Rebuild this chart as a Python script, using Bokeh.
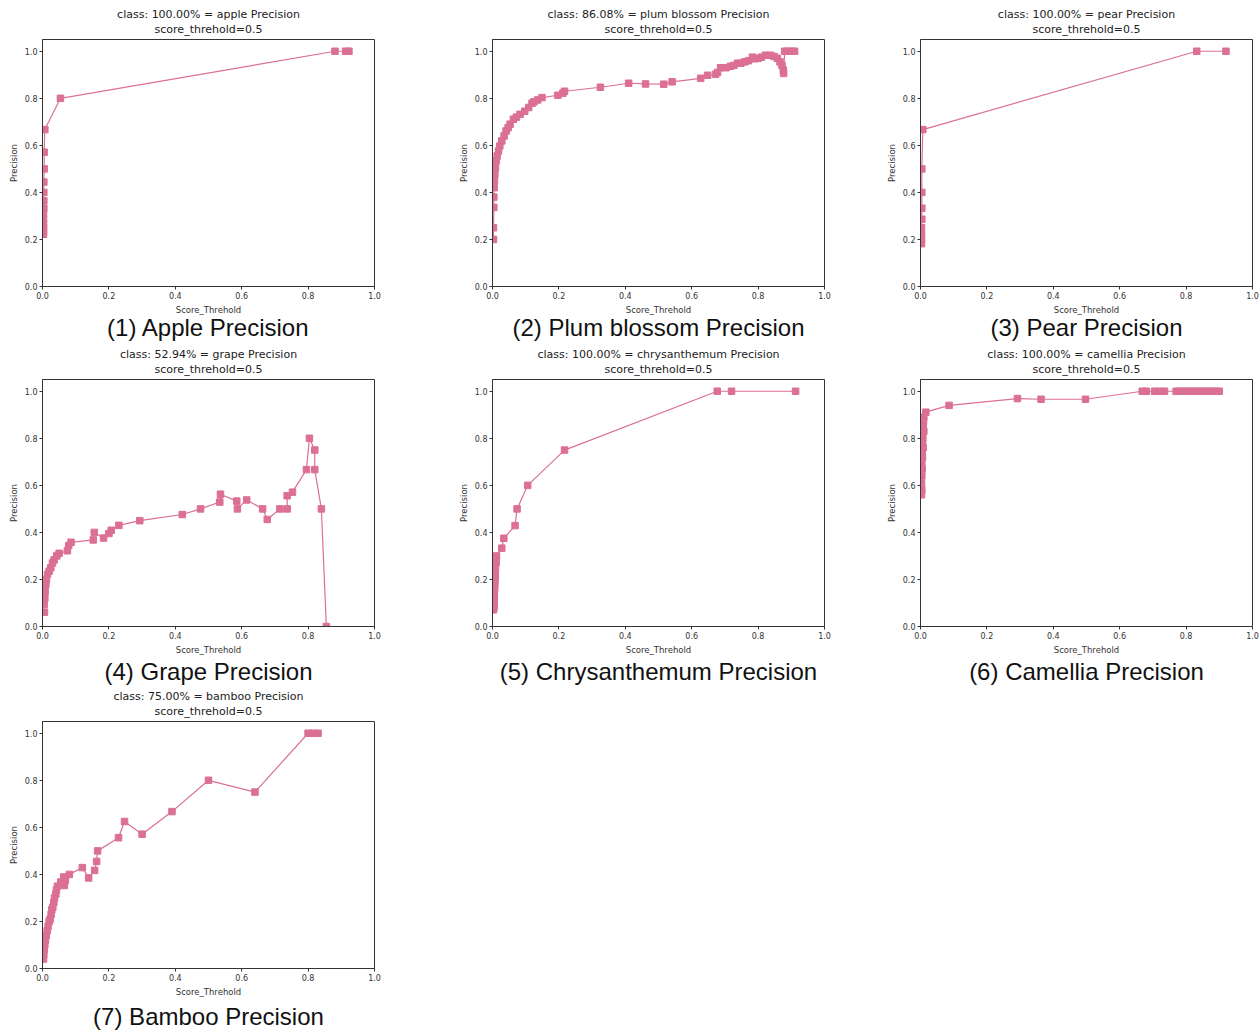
from bokeh.plotting import figure
from bokeh.models import Range1d, FixedTicker, NumeralTickFormatter, Title
from bokeh.layouts import column, row
from bokeh.embed import file_html
from bokeh.resources import INLINE

# ---------------- data ----------------
class_names = ["apple", "plum blossom", "pear", "grape", "chrysanthemum", "camellia", "bamboo"]
class_scores = ["100.00%", "86.08%", "100.00%", "52.94%", "100.00%", "100.00%", "75.00%"]
captions = ["(1) Apple Precision", "(2) Plum blossom Precision", "(3) Pear Precision",
            "(4) Grape Precision", "(5) Chrysanthemum Precision", "(6) Camellia Precision",
            "(7) Bamboo Precision"]
tick_values = [0.0, 0.2, 0.4, 0.6, 0.8, 1.0]

apple_x = [0.923, 0.913, 0.881, 0.054, 0.007, 0.005, 0.005, 0.004, 0.004, 0.004, 0.004,
           0.003, 0.003, 0.003, 0.003, 0.003, 0.003]
apple_y = [1.0, 1.0, 1.0, 0.8, 0.667, 0.571, 0.5, 0.444, 0.4, 0.364, 0.333,
           0.308, 0.286, 0.267, 0.25, 0.235, 0.222]

plum_x = [0.910, 0.900, 0.890, 0.880, 0.877, 0.876, 0.872, 0.866, 0.858, 0.848, 0.837, 0.822,
          0.810, 0.800, 0.790, 0.783, 0.771, 0.760, 0.748, 0.738, 0.727, 0.717, 0.703, 0.687,
          0.678, 0.672, 0.648, 0.627, 0.541, 0.516, 0.461, 0.410, 0.325, 0.217, 0.212, 0.197,
          0.149, 0.136, 0.125, 0.119, 0.109, 0.097, 0.083, 0.072, 0.063, 0.053, 0.047, 0.041,
          0.035, 0.028, 0.022, 0.018, 0.014, 0.011, 0.009, 0.007, 0.006, 0.005, 0.004, 0.004,
          0.003, 0.003]
plum_y = [1.0, 1.0, 1.0, 1.0, 0.906, 0.92, 0.94, 0.955, 0.97, 0.978, 0.983, 0.983,
          0.975, 0.97, 0.968, 0.975, 0.96, 0.955, 0.949, 0.949, 0.94, 0.936, 0.93, 0.93,
          0.91, 0.902, 0.898, 0.885, 0.87, 0.86, 0.861, 0.864, 0.847, 0.83, 0.822, 0.813,
          0.803, 0.793, 0.785, 0.779, 0.761, 0.745, 0.732, 0.72, 0.711, 0.69, 0.675, 0.661,
          0.64, 0.619, 0.597, 0.576, 0.555, 0.534, 0.505, 0.477, 0.45, 0.42, 0.38, 0.336,
          0.25, 0.2]

pear_x = [0.920, 0.832, 0.007, 0.004, 0.004, 0.004, 0.004, 0.003, 0.003, 0.003, 0.003]
pear_y = [1.0, 1.0, 0.667, 0.5, 0.4, 0.333, 0.286, 0.25, 0.222, 0.2, 0.182]

grape_x = [0.855, 0.840, 0.820, 0.820, 0.804, 0.795, 0.753, 0.737, 0.737, 0.715, 0.677, 0.663,
           0.615, 0.587, 0.585, 0.536, 0.534, 0.476, 0.421, 0.293, 0.230, 0.207, 0.200, 0.184,
           0.156, 0.153, 0.086, 0.079, 0.075, 0.050, 0.043, 0.035, 0.030, 0.025, 0.020, 0.015,
           0.012, 0.010, 0.008, 0.007, 0.005, 0.006]
grape_y = [0.0, 0.5, 0.667, 0.75, 0.8, 0.667, 0.571, 0.556, 0.5, 0.5, 0.455, 0.5,
           0.538, 0.5, 0.533, 0.5625, 0.529, 0.5, 0.476, 0.45, 0.43, 0.409, 0.395, 0.376,
           0.4, 0.368, 0.358, 0.344, 0.322, 0.311, 0.3, 0.283, 0.27, 0.25, 0.235, 0.222,
           0.2, 0.18, 0.15, 0.12, 0.094, 0.061]

chrys_x = [0.913, 0.720, 0.677, 0.217, 0.106, 0.074, 0.068, 0.034, 0.028, 0.012, 0.011, 0.009,
           0.008, 0.008, 0.007, 0.007, 0.006, 0.006, 0.006, 0.005, 0.005, 0.005, 0.005, 0.004,
           0.004, 0.004, 0.004, 0.004, 0.003]
chrys_y = [1.0, 1.0, 1.0, 0.75, 0.6, 0.5, 0.429, 0.375, 0.333, 0.3, 0.273, 0.25,
           0.231, 0.214, 0.2, 0.188, 0.176, 0.167, 0.158, 0.15, 0.136, 0.125, 0.115, 0.107,
           0.1, 0.094, 0.088, 0.079, 0.071]

camellia_x = [0.900, 0.890, 0.880, 0.870, 0.860, 0.850, 0.840, 0.830, 0.820, 0.810, 0.800,
              0.790, 0.780, 0.770, 0.735, 0.720, 0.705, 0.680, 0.668, 0.497, 0.363, 0.292,
              0.086, 0.016, 0.010, 0.009, 0.008, 0.010, 0.007, 0.006, 0.008, 0.005, 0.006,
              0.004, 0.005, 0.004, 0.003, 0.004, 0.003]
camellia_y = [1.0, 1.0, 1.0, 1.0, 1.0, 1.0, 1.0, 1.0, 1.0, 1.0, 1.0,
              1.0, 1.0, 1.0, 1.0, 1.0, 1.0, 1.0, 1.0, 0.966, 0.966, 0.969,
              0.94, 0.911, 0.89, 0.87, 0.85, 0.83, 0.80, 0.78, 0.76, 0.74, 0.72,
              0.70, 0.67, 0.64, 0.61, 0.58, 0.56]

bamboo_x = [0.830, 0.815, 0.800, 0.640, 0.500, 0.390, 0.300, 0.247, 0.229, 0.166, 0.163, 0.157,
            0.139, 0.120, 0.081, 0.069, 0.064, 0.066, 0.055, 0.045, 0.042, 0.040, 0.036, 0.034,
            0.031, 0.028, 0.026, 0.023, 0.020, 0.017, 0.014, 0.011, 0.009, 0.007, 0.005, 0.004,
            0.003]
bamboo_y = [1.0, 1.0, 1.0, 0.75, 0.8, 0.667, 0.571, 0.625, 0.556, 0.5, 0.455, 0.417,
            0.385, 0.429, 0.4, 0.375, 0.389, 0.353, 0.368, 0.35, 0.333, 0.316, 0.3, 0.28,
            0.26, 0.25, 0.23, 0.21, 0.2, 0.18, 0.16, 0.14, 0.12, 0.1, 0.08, 0.06,
            0.04]

series_x = [apple_x, plum_x, pear_x, grape_x, chrys_x, camellia_x, bamboo_x]
series_y = [apple_y, plum_y, pear_y, grape_y, chrys_y, camellia_y, bamboo_y]

# ---------------- styling ----------------
LINE_COLOR = "#DB7093"
AXIS_COLOR = "#333333"
MPL_FONT = "DejaVu Sans"
CAP_FONT = "Liberation Sans"

col_borders = [(42, 76), (42, 54), (42, 8)]      # (left, right) per column
row_borders = [(39, 59, -11), (34, 59, -3), (36, 65, 3)]  # (top, bottom, caption standoff)


def make_panel(i):
    left, right = col_borders[i % 3]
    top, bottom, cap_off = row_borders[i // 3]
    p = figure(frame_width=332, frame_height=247,
               x_range=Range1d(0, 1), y_range=Range1d(0, 1.05),
               output_backend="svg", toolbar_location=None, tools="",
               min_border_left=left, min_border_right=right,
               min_border_top=top, min_border_bottom=bottom,
               title=None,
               background_fill_color="white", border_fill_color="white")

    # two centred title lines (added inner first, outer second)
    p.add_layout(Title(text="score_threhold=0.5", align="center", text_font=MPL_FONT,
                       text_font_size="11px", text_font_style="normal",
                       text_line_height=0.75,
                       text_color="#222222", standoff=7), "above")
    p.add_layout(Title(text=f"class: {class_scores[i]} = {class_names[i]} Precision",
                       align="center", text_font=MPL_FONT,
                       text_font_size="11px", text_font_style="normal",
                       text_line_height=0.75,
                       text_color="#222222", standoff=-6), "above")

    p.xgrid.visible = False
    p.ygrid.visible = False
    p.outline_line_color = AXIS_COLOR
    p.outline_line_width = 1
    p.outline_line_alpha = 1

    for ax in (p.xaxis[0], p.yaxis[0]):
        ax.ticker = FixedTicker(ticks=tick_values)
        ax.formatter = NumeralTickFormatter(format="0.0")
        ax.axis_line_color = AXIS_COLOR
        ax.major_tick_line_color = AXIS_COLOR
        ax.major_tick_out = 3
        ax.major_tick_in = 0
        ax.minor_tick_line_color = None
        ax.major_label_text_font = MPL_FONT
        ax.major_label_text_font_size = "8px"
        ax.major_label_text_color = "#333333"
        ax.major_label_standoff = 2
        ax.axis_label_text_font = MPL_FONT
        ax.axis_label_text_font_size = "8.5px"
        ax.axis_label_text_font_style = "normal"
        ax.axis_label_text_color = "#333333"
        ax.axis_label_standoff = 3
    p.xaxis.axis_label = "Score_Threhold"
    p.yaxis.axis_label = "Precision"

    p.add_layout(Title(text=captions[i], align="center", text_font=CAP_FONT,
                       text_font_size="24px", text_font_style="normal",
                       text_color="#111111", standoff=cap_off), "below")

    p.line(series_x[i], series_y[i], line_color=LINE_COLOR, line_width=1.2)
    p.scatter(series_x[i], series_y[i], marker="square", size=6.5,
              fill_color=LINE_COLOR, line_color=LINE_COLOR)
    return p


panels = [make_panel(i) for i in range(7)]
layout = column(row(panels[0], panels[1], panels[2]),
                row(panels[3], panels[4], panels[5]),
                row(panels[6]))

open("out.html", "w").write(file_html(layout, INLINE))
